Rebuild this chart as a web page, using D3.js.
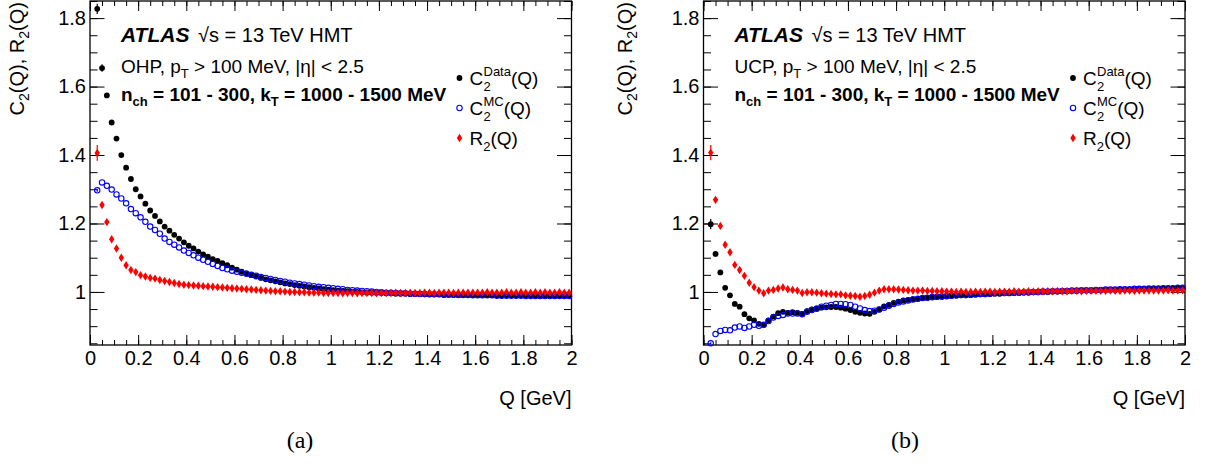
<!DOCTYPE html>
<html><head><meta charset="utf-8">
<script src="https://cdn.jsdelivr.net/npm/d3@7"></script>
<style>
body{margin:0;background:#fff}
svg text{font-family:"Liberation Sans",Arial,Helvetica,sans-serif;fill:#000}
</style>
</head><body><svg id="c" width="1205" height="465"></svg>
<script>
// ---------- data ----------
const Q = [0.03,0.05,0.07,0.09,0.11,0.13,0.15,0.17,0.19,0.21,
0.23,0.25,0.27,0.29,0.31,0.33,0.35,0.37,0.39,0.41,
0.43,0.45,0.47,0.49,0.51,0.53,0.55,0.57,0.59,0.61,
0.63,0.65,0.67,0.69,0.71,0.73,0.75,0.77,0.79,0.81,
0.83,0.85,0.87,0.89,0.91,0.93,0.95,0.97,0.99,1.01,
1.03,1.05,1.07,1.09,1.11,1.13,1.15,1.17,1.19,1.21,
1.23,1.25,1.27,1.29,1.31,1.33,1.35,1.37,1.39,1.41,
1.43,1.45,1.47,1.49,1.51,1.53,1.55,1.57,1.59,1.61,
1.63,1.65,1.67,1.69,1.71,1.73,1.75,1.77,1.79,1.81,
1.83,1.85,1.87,1.89,1.91,1.93,1.95,1.97,1.99];

// (a) OHP
const ohpData = [1.827,1.654,1.574,1.495,1.448,1.400,1.363,1.330,1.300,1.279,
1.258,1.238,1.222,1.206,1.191,1.179,1.167,1.156,1.145,1.135,
1.127,1.118,1.110,1.103,1.096,1.091,1.084,1.078,1.071,1.065,
1.059,1.054,1.049,1.045,1.041,1.037,1.034,1.031,1.028,1.025,
1.023,1.020,1.018,1.016,1.014,1.012,1.010,1.008,1.007,1.005,
1.004,1.003,1.002,1.001,1.000,0.999,0.998,0.998,0.997,0.997,
0.996,0.996,0.995,0.995,0.995,0.994,0.994,0.994,0.993,0.993,
0.993,0.993,0.992,0.992,0.992,0.992,0.992,0.991,0.991,0.991,
0.991,0.991,0.991,0.990,0.990,0.990,0.990,0.990,0.990,0.990,
0.990,0.989,0.989,0.989,0.989,0.989,0.989,0.989,0.989];
const ohpMC = [1.297,1.320,1.310,1.299,1.285,1.273,1.259,1.242,1.230,1.218,
1.205,1.191,1.181,1.170,1.156,1.146,1.138,1.130,1.121,1.114,
1.107,1.100,1.094,1.088,1.082,1.076,1.070,1.066,1.062,1.059,
1.056,1.053,1.050,1.047,1.044,1.041,1.038,1.035,1.032,1.030,
1.027,1.025,1.023,1.021,1.019,1.017,1.015,1.014,1.012,1.011,
1.009,1.008,1.006,1.005,1.004,1.003,1.002,1.001,1.000,0.999,
0.998,0.998,0.997,0.996,0.996,0.995,0.995,0.994,0.994,0.993,
0.993,0.993,0.992,0.992,0.992,0.991,0.991,0.991,0.990,0.990,
0.990,0.990,0.990,0.989,0.989,0.989,0.989,0.989,0.989,0.988,
0.988,0.988,0.988,0.988,0.988,0.988,0.988,0.988,0.988];
const ohpR = [1.406,1.254,1.204,1.154,1.127,1.100,1.078,1.064,1.058,1.049,
1.045,1.041,1.039,1.035,1.032,1.029,1.026,1.023,1.021,1.020,
1.019,1.018,1.017,1.016,1.015,1.014,1.013,1.012,1.011,1.010,
1.009,1.008,1.007,1.006,1.005,1.004,1.003,1.002,1.002,1.001,
1.000,1.000,0.999,0.999,0.998,0.998,0.998,0.997,0.997,0.997,
0.997,0.996,0.997,0.997,0.996,0.997,0.997,0.997,0.996,0.997,
0.997,0.997,0.998,0.997,0.997,0.998,0.997,0.997,0.998,0.998,
0.997,0.998,0.998,0.998,0.997,0.998,0.998,0.998,0.998,0.998,
0.998,0.999,0.998,0.998,0.998,0.999,0.998,0.998,0.999,0.998,
0.998,0.999,0.998,0.999,0.998,0.998,0.999,0.998,0.998];

// (b) UCP
const ucpData = [1.198,1.111,1.057,1.012,0.990,0.965,0.957,0.935,0.923,0.917,
0.907,0.904,0.917,0.928,0.938,0.942,0.939,0.941,0.939,0.936,
0.944,0.949,0.952,0.954,0.955,0.956,0.956,0.954,0.951,0.947,
0.942,0.939,0.937,0.936,0.942,0.949,0.958,0.962,0.968,0.972,
0.975,0.977,0.979,0.980,0.982,0.983,0.984,0.985,0.986,0.987,
0.988,0.989,0.990,0.990,0.991,0.992,0.993,0.993,0.994,0.995,
0.995,0.996,0.996,0.997,0.997,0.998,0.998,0.999,0.999,1.000,
1.000,1.001,1.001,1.002,1.002,1.003,1.003,1.004,1.004,1.004,
1.005,1.005,1.006,1.006,1.006,1.007,1.007,1.007,1.008,1.008,
1.008,1.009,1.009,1.009,1.010,1.010,1.010,1.011,1.011];
const ucpMC = [0.850,0.877,0.886,0.889,0.888,0.896,0.899,0.895,0.899,0.904,
0.901,0.904,0.915,0.925,0.930,0.933,0.937,0.937,0.937,0.935,
0.942,0.947,0.951,0.957,0.960,0.962,0.965,0.965,0.964,0.962,
0.957,0.952,0.947,0.944,0.945,0.949,0.954,0.960,0.965,0.969,
0.972,0.975,0.978,0.980,0.982,0.983,0.985,0.986,0.987,0.988,
0.989,0.990,0.991,0.991,0.992,0.993,0.994,0.994,0.995,0.996,
0.996,0.997,0.997,0.998,0.998,0.999,0.999,1.000,1.000,1.001,
1.001,1.002,1.002,1.003,1.003,1.004,1.004,1.005,1.005,1.005,
1.006,1.006,1.007,1.007,1.007,1.008,1.008,1.008,1.009,1.009,
1.009,1.010,1.010,1.010,1.011,1.011,1.011,1.012,1.012];
const ucpR = [1.407,1.269,1.193,1.138,1.116,1.079,1.064,1.047,1.027,1.014,
1.004,0.996,1.004,1.006,1.010,1.013,1.008,1.006,1.004,0.997,
0.999,0.999,0.998,0.996,0.995,0.994,0.993,0.993,0.990,0.989,
0.988,0.986,0.988,0.992,0.998,1.004,1.008,1.008,1.008,1.007,
1.006,1.005,1.004,1.004,1.004,1.003,1.003,1.002,1.002,1.001,
1.001,1.000,1.001,1.000,1.000,1.001,1.000,1.001,1.001,1.000,
1.001,1.001,1.001,1.002,1.001,1.001,1.002,1.001,1.002,1.002,
1.002,1.002,1.003,1.002,1.002,1.003,1.003,1.002,1.003,1.003,
1.003,1.003,1.003,1.004,1.003,1.003,1.004,1.004,1.003,1.004,
1.004,1.004,1.004,1.004,1.004,1.005,1.004,1.004,1.005];

// statistical errors (only first bins are visible)
const ohpDataErr = [0.015,0.011,0.006];
const ohpMCErr   = [0.004];
const ohpRErr    = [0.023,0.009,0.006];
const ucpDataErr = [0.015,0.006];
const ucpMCErr   = [0.003];
const ucpRErr    = [0.022,0.009,0.007];

// axis ticks
const xMajor = [0,0.2,0.4,0.6,0.8,1,1.2,1.4,1.6,1.8,2];
const xLabels = ["0","0.2","0.4","0.6","0.8","1","1.2","1.4","1.6","1.8","2"];
const yMajor = [1,1.2,1.4,1.6,1.8];
const yLabels = ["1","1.2","1.4","1.6","1.8"];
const xDomain = [0,2];
const yDomain = [0.845,1.85];

const legendNames = ["Data","MC","R"];

// ---------- drawing ----------
const svg = d3.select('#c');
const TOP = 1, BOTTOM = 345;
const xMinor = d3.range(0, 2.0001, 0.05);
const yMinor = d3.range(0.85, 1.8501, 0.05);

function drawPanel(cfg){
  const x = d3.scaleLinear().domain(xDomain).range([cfg.left, cfg.right]);
  const y = d3.scaleLinear().domain(yDomain).range([BOTTOM, TOP]);
  const g = svg.append('g');

  const axes = [
    [d3.axisBottom(x).tickValues(xMinor).tickSize(-5).tickFormat(''), `translate(0,${BOTTOM})`],
    [d3.axisBottom(x).tickValues(xMajor).tickSize(-10).tickPadding(6).tickFormat((d,i)=>xLabels[i]), `translate(0,${BOTTOM})`],
    [d3.axisTop(x).tickValues(xMinor).tickSize(-5).tickFormat(''), `translate(0,${TOP})`],
    [d3.axisTop(x).tickValues(xMajor).tickSize(-10).tickFormat(''), `translate(0,${TOP})`],
    [d3.axisLeft(y).tickValues(yMinor).tickSize(-7.5).tickFormat(''), `translate(${cfg.left},0)`],
    [d3.axisLeft(y).tickValues(yMajor).tickSize(-14.5).tickPadding(4).tickFormat((d,i)=>yLabels[i]), `translate(${cfg.left},0)`],
    [d3.axisRight(y).tickValues(yMinor).tickSize(-7.5).tickFormat(''), `translate(${cfg.right},0)`],
    [d3.axisRight(y).tickValues(yMajor).tickSize(-14.5).tickFormat(''), `translate(${cfg.right},0)`]
  ];
  axes.forEach(([ax,tr])=>{
    const a = g.append('g').attr('transform',tr).call(ax);
    a.select('.domain').remove();
    a.selectAll('line').attr('stroke','#000').attr('stroke-width',1);
    a.selectAll('text').attr('font-size',20).attr('font-family','"Liberation Sans",Arial,sans-serif').attr('fill','#000');
  });
  g.append('rect').attr('x',cfg.left).attr('y',TOP).attr('width',cfg.right-cfg.left).attr('height',BOTTOM-TOP)
    .attr('fill','none').attr('stroke','#000').attr('stroke-width',1.3);

  // axis titles
  g.append('text').attr('x',cfg.right).attr('y',405).attr('text-anchor','end').attr('font-size',20).text('Q [GeV]');
  const yt = g.append('text').attr('transform',`translate(${cfg.ytx},2) rotate(-90)`).attr('text-anchor','end').attr('font-size',20);
  yt.append('tspan').text('C');
  yt.append('tspan').attr('font-size',14).attr('dy',5).text('2');
  yt.append('tspan').attr('dy',-5).text('(Q), R');
  yt.append('tspan').attr('font-size',14).attr('dy',5).text('2');
  yt.append('tspan').attr('dy',-5).text('(Q)');

  // series
  const series = [
    {vals:cfg.data, err:cfg.dataErr, color:'#000'},
    {vals:cfg.mc, err:cfg.mcErr, color:'#0000ff'},
    {vals:cfg.r, err:cfg.rErr, color:'#ff0000'}
  ];
  const diamond = 'M0,-4.2L2.7,0L0,4.2L-2.7,0Z';
  series.forEach((s,k)=>{
    const sg = g.append('g');
    sg.selectAll('line').data(s.err).join('line')
      .attr('x1',(d,i)=>x(Q[i])).attr('x2',(d,i)=>x(Q[i]))
      .attr('y1',(d,i)=>y(s.vals[i]-d)).attr('y2',(d,i)=>y(s.vals[i]+d))
      .attr('stroke',s.color).attr('stroke-width',1.2);
    if(k===0){
      sg.selectAll('circle').data(s.vals).join('circle')
        .attr('cx',(d,i)=>x(Q[i])).attr('cy',d=>y(d)).attr('r',2.9).attr('fill','#000');
    } else if(k===1){
      sg.selectAll('circle').data(s.vals).join('circle')
        .attr('cx',(d,i)=>x(Q[i])).attr('cy',d=>y(d)).attr('r',2.7)
        .attr('fill','none').attr('stroke','#0000ff').attr('stroke-width',1.1);
    } else {
      sg.selectAll('path').data(s.vals).join('path')
        .attr('transform',(d,i)=>`translate(${x(Q[i])},${y(d)})`).attr('d',diamond).attr('fill','#ff0000');
    }
  });

  // labels
  const tx = cfg.left + 31;
  const t1 = g.append('text').attr('x',tx).attr('y',42);
  t1.append('tspan').attr('font-weight','bold').attr('font-style','italic').attr('font-size',21).text('ATLAS');
  g.append('text').attr('x',tx+77).attr('y',42).attr('font-size',20).text('\u221As = 13 TeV HMT');
  const t2 = g.append('text').attr('x',tx).attr('y',73).attr('font-size',19);
  t2.append('tspan').text(cfg.tag + ', p');
  t2.append('tspan').attr('font-size',13).attr('dy',5).text('T');
  t2.append('tspan').attr('dy',-5).text(' > 100 MeV, |\u03B7| < 2.5');
  const t3 = g.append('text').attr('x',tx).attr('y',101).attr('font-size',19).attr('font-weight','bold');
  t3.append('tspan').text('n');
  t3.append('tspan').attr('font-size',13).attr('dy',5).text('ch');
  t3.append('tspan').attr('dy',-5).text(' = 101 - 300, k');
  t3.append('tspan').attr('font-size',13).attr('dy',5).text('T');
  t3.append('tspan').attr('dy',-5).text(' = 1000 - 1500 MeV');

  // legend
  const lx = cfg.right - 112;
  const ly = [78, 108, 138];
  g.append('circle').attr('cx',lx).attr('cy',ly[0]).attr('r',2.9).attr('fill','#000');
  g.append('circle').attr('cx',lx).attr('cy',ly[1]).attr('r',2.7).attr('fill','none').attr('stroke','#0000ff').attr('stroke-width',1.1);
  g.append('path').attr('transform',`translate(${lx},${ly[2]})`).attr('d',diamond).attr('fill','#ff0000');
  legendNames.forEach((nm,i)=>{
    const t = g.append('text').attr('x',lx+10).attr('y',ly[i]+7).attr('font-size',19);
    if(i<2){
      t.append('tspan').text('C');
      const xs = lx+10+14;
      t.append('tspan').attr('font-size',13).attr('x',xs).attr('dy',6).text('2');
      t.append('tspan').attr('font-size',13).attr('x',xs).attr('dy',-15).text(nm);
      t.append('tspan').attr('dy',9).text('(Q)');
    } else {
      t.append('tspan').text('R');
      t.append('tspan').attr('font-size',13).attr('dy',6).text('2');
      t.append('tspan').attr('dy',-6).text('(Q)');
    }
  });

  svg.append('text').attr('x',cfg.capx).attr('y',448).attr('text-anchor','middle')
    .attr('font-size',24).style('font-family','"Liberation Serif","Times New Roman",serif').text(cfg.caption);
}

drawPanel({left:90, right:571.5, ytx:24, data:ohpData, mc:ohpMC, r:ohpR,
  dataErr:ohpDataErr, mcErr:ohpMCErr, rErr:ohpRErr, tag:'OHP', caption:'(a)', capx:300});
drawPanel({left:703.5, right:1185, ytx:632, data:ucpData, mc:ucpMC, r:ucpR,
  dataErr:ucpDataErr, mcErr:ucpMCErr, rErr:ucpRErr, tag:'UCP', caption:'(b)', capx:905});
</script>
</body></html>
